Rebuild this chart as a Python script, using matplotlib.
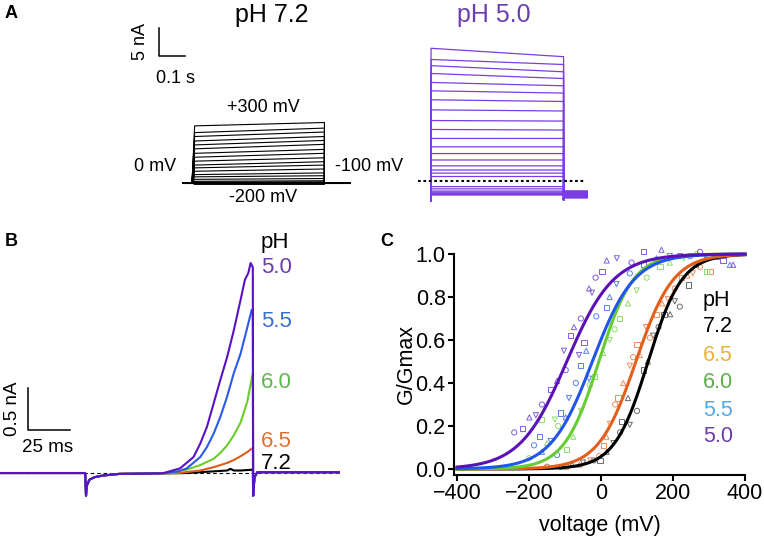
import numpy as np
import matplotlib.pyplot as plt

plt.rcParams['font.family'] = ['Liberation Sans', 'DejaVu Sans']

# ---------------- panel A: step currents (nA), steps +300 ... -200 mV
a_volts = list(range(300, -201, -20))
a_step = 0.5  # s
a72_start = [10.2, 9.0, 8.3, 7.5, 6.8, 6.1, 5.3, 4.6, 3.9, 3.2, 2.7, 2.1, 1.5,
             1.1, 0.65, 0.3, 0.15, 0.1, 0.05, 0.0, -0.05, -0.1, -0.12, -0.15, -0.18, -0.2]
a72_end = [10.8, 9.8, 9.1, 8.3, 7.6, 6.9, 6.0, 5.3, 4.5, 3.8, 3.2, 2.5, 1.8,
           1.3, 0.8, 0.4, 0.2, 0.1, 0.05, 0.0, -0.05, -0.1, -0.12, -0.15, -0.18, -0.2]
a50_start = [23.7, 21.7, 20.6, 19.2, 17.6, 16.1, 14.5, 12.7, 10.8, 9.2, 7.6, 6.1, 4.9,
             3.75, 2.7, 1.96, 1.4, 0.8, -1.0, -1.4, -1.8, -2.0, -2.2, -2.3, -2.4, -2.5]
a50_end = [22.2, 20.8, 19.5, 18.3, 17.0, 15.7, 14.2, 12.5, 10.7, 9.1, 7.6, 6.1, 4.9,
           3.75, 2.7, 1.96, 1.4, 0.8, -1.0, -1.4, -1.8, -2.0, -2.2, -2.3, -2.4, -2.5]
a50_tail = [-3.0, -3.0, -2.9, -2.9, -2.8, -2.8, -2.7, -2.7, -2.6, -2.6, -2.5, -2.5, -2.4,
            -2.4, -2.3, -2.3, -2.2, -2.2, -2.1, -2.1, -2.0, -2.0, -1.9, -1.9, -1.8, -1.8]

# ---------------- panel B: currents (nA) vs time (ms)
b_pre_t = [-51.2, -0.5, 0.0, 0.5, 2, 5, 10, 20]
b_pre_i = [0.0, 0.0, -0.27, -0.15, -0.08, -0.05, -0.03, -0.01]
b_post_t = [99.5, 100.3, 102, 151.2]
b_post_i = [-0.27, -0.05, 0.01, 0.01]
b72_t = [60, 76, 84, 86, 88, 92, 99.3]
b72_i = [0.0, 0.02, 0.03, 0.05, 0.03, 0.03, 0.04]
b65_t = [55, 68, 76, 84, 88, 92, 96, 99.3]
b65_i = [0.0, 0.03, 0.07, 0.12, 0.155, 0.20, 0.25, 0.30]
b60_t = [50, 60, 68, 76, 80, 84, 88, 92, 96, 99.3]
b60_i = [0.0, 0.04, 0.095, 0.17, 0.24, 0.33, 0.45, 0.60, 0.85, 1.19]
b55_t = [48, 55, 60, 68, 72, 76, 80, 84, 88, 92, 95.6, 98.6, 99.3]
b55_i = [0.0, 0.02, 0.056, 0.19, 0.31, 0.47, 0.67, 0.91, 1.19, 1.42, 1.70, 1.94, 1.95]
b50_t = [45, 48, 56, 64, 68, 72, 76, 80, 84, 88, 92, 94.6, 96.6, 98, 99.3]
b50_i = [-0.005, 0.01, 0.056, 0.19, 0.35, 0.55, 0.83, 1.11, 1.38, 1.70, 2.06, 2.30, 2.38, 2.50, 2.45]

# ---------------- panel C: G/Gmax vs voltage
c_ph = ['7.2', '6.5', '6.0', '5.5', '5.0']
c_vhalf = [131, 97, -6, -24, -95]
c_slope = [47, 52, 48, 58, 65]
c72_v = [-150, -110, -80, -50, -20, -3, 16, 35, 53, 57, 75, 80, 100, 117, 130, 145,
         160, 175, 192, 205, 219, 244, 264, 290]
c72_g = [0.01, 0.01, 0.02, 0.03, 0.04, 0.04, 0.08, 0.12, 0.17, 0.22, 0.33, 0.205, 0.27,
         0.46, 0.50, 0.62, 0.66, 0.72, 0.72, 0.78, 0.755, 0.856, 0.95, 0.99]
c65_v = [-150, -100, -60, -30, -5, 6, 15, 25, 39, 47, 62, 80, 89, 100, 108, 125, 136,
         155, 170, 186, 205, 224, 240, 255, 275, 303]
c65_g = [0.01, 0.01, 0.02, 0.04, 0.06, 0.11, 0.15, 0.21, 0.30, 0.33, 0.40, 0.48, 0.52,
         0.58, 0.53, 0.66, 0.61, 0.72, 0.77, 0.79, 0.84, 0.89, 0.90, 0.91, 0.94, 0.92]
c60_v = [-200, -165, -150, -128, -119, -96, -77, -55, -31, -17, 6, 24, 38, 52, 75, 99,
         127, 164, 191, 230, 266, 293]
c60_g = [0.05, 0.23, 0.12, 0.23, 0.20, 0.09, 0.15, 0.27, 0.39, 0.43, 0.54, 0.60, 0.65,
         0.70, 0.77, 0.83, 0.89, 0.94, 0.96, 0.98, 1.0, 0.92]
c55_v = [-186, -170, -164, -140, -122, -112, -98, -89, -70, -56, -41, -33, -13, 15, 24,
         43, 80, 117, 154, 191, 247, 321, 358]
c55_g = [0.11, 0.15, 0.08, 0.13, 0.065, 0.26, 0.24, 0.33, 0.40, 0.48, 0.55, 0.42, 0.71,
         0.75, 0.80, 0.86, 0.91, 0.95, 0.98, 0.99, 0.99, 0.99, 0.95]
c50_v = [-241, -219, -199, -181, -164, -140, -122, -103, -98, -84, -75, -61, -56, -47,
         -33, -25, -15, 3, 16, 44, 85, 117, 168, 220, 275, 339, 367]
c50_g = [0.17, 0.19, 0.24, 0.25, 0.30, 0.37, 0.41, 0.55, 0.46, 0.62, 0.66, 0.53, 0.70,
         0.59, 0.84, 0.82, 0.89, 0.92, 0.97, 0.98, 0.96, 1.01, 1.02, 0.99, 1.01, 0.97, 0.95]

curve_colors = ['black', '#E2601C', '#66CC33', '#2255EE', '#5A12B8']
point_colors = ['#6a6a6a', '#EE9060', '#8EDC6E', '#5A80F0', '#8060E0']
label_colors = ['black', '#E8B53A', '#5BAE4A', '#52A8E6', '#6A3DAA']
b_colors = ['black', '#E05A18', '#6CCB2A', '#2A5BE8', '#5A10C4']
b_label_colors = ['black', '#E07030', '#5DB84A', '#3A6FD0', '#6A3DAA']

fig = plt.figure(figsize=(7.64, 5.40), dpi=100)

# ---------------- A left: pH 7.2
ax1 = fig.add_axes([130 / 764, 1 - 210 / 540, 240 / 764, 190 / 540])
ax1.set_xlim(-0.234, 0.672)
ax1.set_ylim(-4.82, 29.1)
ax1.axis('off')
for s0, s1 in zip(a72_start, a72_end):
    ax1.plot([-0.034, 0, 0.01, a_step, a_step, 0.596], [0, 0, s0, s1, 0, 0],
             color='black', lw=0.8)
ax1.plot([-0.1245, -0.1245, -0.0245], [27.7, 22.7, 22.7], color='black', lw=1.1)
ax1.text(-0.196, 25.2, '5 nA', rotation=90, ha='center', va='center', fontsize=13)
ax1.text(-0.064, 18.6, '0.1 s', ha='center', va='center', fontsize=13)
ax1.text(0.268, 13.4, '+300 mV', ha='center', va='center', fontsize=13)
ax1.text(-0.06, 2.86, '0 mV', ha='right', va='center', fontsize=13)
ax1.text(0.54, 2.86, '-100 mV', ha='left', va='center', fontsize=13)
ax1.text(0.268, -2.5, '-200 mV', ha='center', va='center', fontsize=13)
ax1.text(0.302, 30.0, 'pH 7.2', ha='center', va='center', fontsize=18, clip_on=False)

# ---------------- A right: pH 5.0
ax2 = fig.add_axes([390 / 764, 1 - 210 / 540, 230 / 764, 190 / 540])
ax2.set_xlim(-0.155, 0.713)
ax2.set_ylim(-5.18, 28.75)
ax2.axis('off')
for s0, s1, tl in zip(a50_start, a50_end, a50_tail):
    ax2.plot([0, 0, a_step, a_step, a_step + 0.003, 0.589], [-3.6, s0, s1, -3.4, tl, tl],
             color='#7B3CE4', lw=0.9)
ax2.plot([-0.049, 0.581], [0, 0], color='black', lw=1.5, ls=(0, (1.3, 1.3)))
ax2.text(0.238, 29.6, 'pH 5.0', ha='center', va='center', fontsize=18,
         color='#6B3FB0', clip_on=False)

# ---------------- B
ax3 = fig.add_axes([0, 30 / 540, 340 / 764, 275 / 540])
ax3.set_xlim(-51.2, 151.2)
ax3.set_ylim(-0.44, 2.833)
ax3.axis('off')
ax3.plot([-51.2, 151.2], [0, 0], color='black', lw=0.8, ls=(0, (3.2, 2.6)), zorder=1)
b_traces = [(b72_t, b72_i), (b65_t, b65_i), (b60_t, b60_i), (b55_t, b55_i), (b50_t, b50_i)]
for (tt, ii), col in zip(b_traces, b_colors):
    ax3.plot(b_pre_t + tt + b_post_t, b_pre_i + ii + b_post_i, color=col, lw=1.5, zorder=2)
ax3.plot([-34.5, -34.5, -9.5], [1.012, 0.512, 0.512], color='black', lw=1.1)
ax3.text(-44, 0.76, '0.5 nA', rotation=90, ha='center', va='center', fontsize=13.5)
ax3.text(-22.6, 0.30, '25 ms', ha='center', va='center', fontsize=13.5)
ax3.text(104.2, 2.74, 'pH', ha='left', va='center', fontsize=16)
b_label_i = [0.115, 0.373, 1.075, 1.80, 2.45]
for ph, yi, col in zip(c_ph, b_label_i, b_label_colors):
    ax3.text(104.2, yi, ph, ha='left', va='center', fontsize=16, color=col)

# ---------------- C
ax4 = fig.add_axes([454 / 764, 1 - 475 / 540, 291 / 764, 221 / 540])
ax4.set_xlim(-408.3, 400)
ax4.set_ylim(-0.028, 1.0)
for side in ['top', 'right']:
    ax4.spines[side].set_visible(False)
for side in ['left', 'bottom']:
    ax4.spines[side].set_linewidth(1.5)
ax4.set_xticks([-400, -200, 0, 200, 400])
ax4.set_yticks([0, 0.2, 0.4, 0.6, 0.8, 1.0])
ax4.set_yticklabels(['0.0', '0.2', '0.4', '0.6', '0.8', '1.0'])
ax4.tick_params(labelsize=15.5, width=1.5, length=4, pad=2)
ax4.set_xlabel('voltage (mV)', fontsize=15.5, labelpad=8)
ax4.set_ylabel('G/Gmax', fontsize=15.5, labelpad=-1)

markers = ['o', 's', '^', 'v']
c_points = [(c72_v, c72_g), (c65_v, c65_g), (c60_v, c60_g), (c55_v, c55_g), (c50_v, c50_g)]
for (vv, gg), col in zip(c_points, point_colors):
    for j, (v, g) in enumerate(zip(vv, gg)):
        ax4.scatter(v, g, s=14, marker=markers[j % 4], facecolors='none',
                    edgecolors=col, linewidths=0.7, clip_on=False, zorder=2)

v = np.linspace(-400, 400, 401)
for vh, k, col in zip(c_vhalf, c_slope, curve_colors):
    ax4.plot(v, 1 / (1 + np.exp(-(v - vh) / k)), color=col, lw=2.2, clip_on=False, zorder=3)

ax4.text(283, 0.786, 'pH', ha='left', va='center', fontsize=15.5)
c_label_g = [0.662, 0.53, 0.40, 0.274, 0.15]
for ph, yg, col in zip(c_ph, c_label_g, label_colors):
    ax4.text(283, yg, ph, ha='left', va='center', fontsize=15.5, color=col)

# panel letters
fig.text(5 / 764, 1 - 13 / 540, 'A', fontsize=13, fontweight='bold', va='center')
fig.text(5 / 764, 1 - 241 / 540, 'B', fontsize=13, fontweight='bold', va='center')
fig.text(380 / 764, 1 - 241 / 540, 'C', fontsize=13, fontweight='bold', va='center')

fig.savefig('out.png', dpi=100)
